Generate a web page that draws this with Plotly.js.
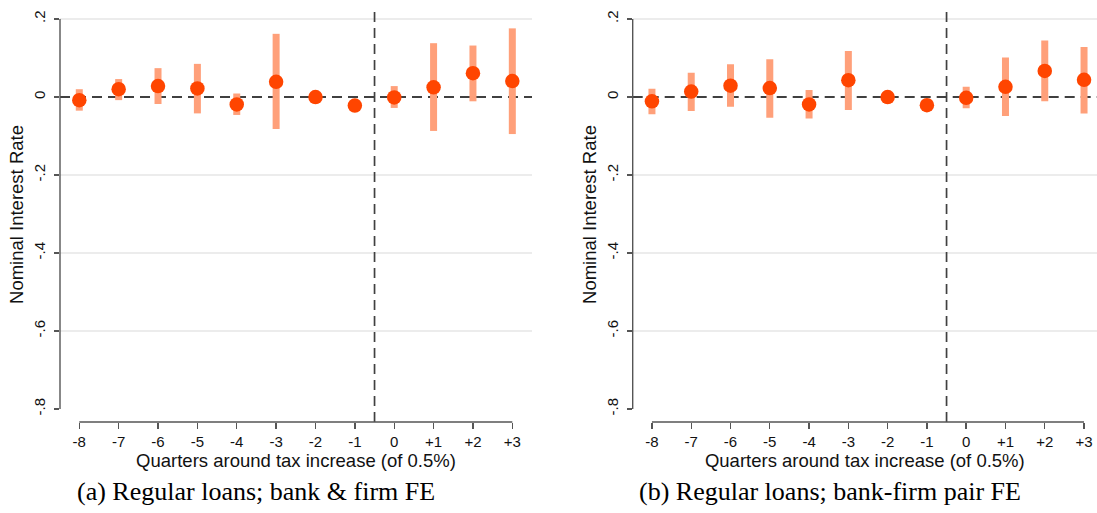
<!DOCTYPE html>
<html>
<head>
<meta charset="utf-8">
<script src="https://cdn.plot.ly/plotly-3.0.1.min.js"></script>
<style>
  html, body { margin: 0; padding: 0; background: #fff; }
  #chart { width: 1097px; height: 513px; }
</style>
</head>
<body>
<div id="chart"></div>
<script>
// ---- data ----
const quarters = [-8, -7, -6, -5, -4, -3, -2, -1, 0, 1, 2, 3];
const quarterLabels = ["-8", "-7", "-6", "-5", "-4", "-3", "-2", "-1", "0", "+1", "+2", "+3"];

// Panel (a): Regular loans; bank & firm FE
const estA = [-0.008, 0.020, 0.028, 0.022, -0.019, 0.039, 0.000, -0.022, -0.001, 0.025, 0.061, 0.041];
const hiA  = [0.020, 0.046, 0.074, 0.085, 0.009, 0.162, null, null, 0.028, 0.138, 0.132, 0.176];
const loA  = [-0.035, -0.008, -0.018, -0.042, -0.046, -0.082, null, null, -0.028, -0.087, -0.011, -0.095];

// Panel (b): Regular loans; bank-firm pair FE
const estB = [-0.011, 0.014, 0.029, 0.023, -0.019, 0.043, 0.000, -0.021, -0.002, 0.026, 0.067, 0.044];
const hiB  = [0.021, 0.062, 0.084, 0.097, 0.018, 0.118, null, null, 0.026, 0.101, 0.145, 0.128];
const loB  = [-0.044, -0.036, -0.025, -0.053, -0.055, -0.033, null, null, -0.029, -0.049, -0.011, -0.042];

const yTickVals = [0.2, 0, -0.2, -0.4, -0.6, -0.8];
const yTickText = [".2", "0", "-.2", "-.4", "-.6", "-.8"];
const gridVals = [0.2, -0.2, -0.4, -0.6];
const eventLine = -0.5;

const captions = ["(a) Regular loans; bank & firm FE", "(b) Regular loans; bank-firm pair FE"];
const xTitle = "Quarters around tax increase (of 0.5%)";
const yTitle = "Nominal Interest Rate";

// ---- styling ----
const W = 1097, H = 513;
const dotColor = "rgb(255,69,0)";
const ciColor = "rgb(255,160,122)";
const axisColor = "#555555";
const dashColor = "#404040";
const gridColor = "#e6e6e6";
const sans = "Liberation Sans, Arial, Helvetica, sans-serif";

function upper(est, hi) { return est.map((v, i) => hi[i] === null ? null : hi[i] - v); }
function lower(est, lo) { return est.map((v, i) => lo[i] === null ? null : v - lo[i]); }

function panelTrace(est, hi, lo, xa, ya) {
  return {
    type: "scatter", mode: "markers",
    x: quarters, y: est, xaxis: xa, yaxis: ya,
    marker: { color: dotColor, size: 14.5, line: { width: 0 } },
    error_y: {
      type: "data", symmetric: false,
      array: upper(est, hi), arrayminus: lower(est, lo),
      color: ciColor, thickness: 7, width: 0
    },
    hoverinfo: "x+y", showlegend: false
  };
}

const data = [
  panelTrace(estA, hiA, loA, "x", "y"),
  panelTrace(estB, hiB, loB, "x2", "y2")
];

const yDom = [1 - 422 / H, 1 - 7 / H];
const yRange = [-0.8333, 0.2308];

function xAxis(domain, range, anchor) {
  return {
    domain: domain, range: range, anchor: anchor,
    tickmode: "array", tickvals: quarters, ticktext: quarterLabels,
    ticks: "outside", ticklen: 6, tickwidth: 1.4, tickcolor: axisColor,
    showline: false, showgrid: false, zeroline: false,
    tickfont: { family: sans, size: 15, color: "#111" },
    title: { text: xTitle, font: { family: sans, size: 18.5, color: "#111" }, standoff: 1 },
    fixedrange: true
  };
}
function yAxis(anchor) {
  return {
    domain: yDom, range: yRange, anchor: anchor,
    tickmode: "array", tickvals: yTickVals, ticktext: yTickText,
    ticks: "outside", ticklen: 5, tickwidth: 1.4, tickcolor: axisColor,
    tickangle: -90, ticklabelstandoff: 3,
    showline: false, showgrid: false, zeroline: false,
    tickfont: { family: sans, size: 15, color: "#111" },
    title: { text: yTitle, font: { family: sans, size: 18.5, color: "#111" }, standoff: 2 },
    fixedrange: true
  };
}

const shapes = [];
function panelShapes(xr, yr) {
  gridVals.forEach(g => shapes.push({
    type: "line", xref: xr + " domain", yref: yr, x0: 0, x1: 1, y0: g, y1: g,
    line: { color: gridColor, width: 1.3 }, layer: "below"
  }));
  // horizontal zero reference
  shapes.push({ type: "line", xref: xr + " domain", yref: yr, x0: 0, x1: 1, y0: 0, y1: 0,
    line: { color: dashColor, width: 2, dash: "10px,6px" }, layer: "below" });
  // vertical event line
  shapes.push({ type: "line", xref: xr, yref: yr + " domain", x0: eventLine, x1: eventLine, y0: 0, y1: 1,
    line: { color: dashColor, width: 1.7, dash: "10px,6px" }, layer: "below" });
  // y axis line (spans tick range only)
  shapes.push({ type: "line", xref: xr + " domain", yref: yr, x0: 0, x1: 0,
    y0: yTickVals[yTickVals.length - 1], y1: yTickVals[0],
    line: { color: axisColor, width: 1.4 } });
  // x axis line (spans tick range only)
  shapes.push({ type: "line", xref: xr, yref: yr + " domain",
    x0: quarters[0], x1: quarters[quarters.length - 1], y0: 0, y1: 0,
    line: { color: axisColor, width: 1.4 } });
}
panelShapes("x", "y");
panelShapes("x2", "y2");

const serif = "Liberation Serif, Times New Roman, serif";
const annotations = [
  { text: captions[0], xref: "paper", yref: "paper", x: 256 / W, y: 1 - 491 / H,
    xanchor: "center", yanchor: "middle", showarrow: false, font: { family: serif, size: 26, color: "#000" } },
  { text: captions[1], xref: "paper", yref: "paper", x: 830 / W, y: 1 - 491 / H,
    xanchor: "center", yanchor: "middle", showarrow: false, font: { family: serif, size: 26, color: "#000" } }
];

const layout = {
  width: W, height: H,
  margin: { l: 0, r: 0, t: 0, b: 0 },
  paper_bgcolor: "#fff", plot_bgcolor: "#fff",
  showlegend: false,
  xaxis: xAxis([60 / W, 532 / W], [-8.49, 3.5], "y"),
  yaxis: yAxis("x"),
  xaxis2: xAxis([632.7 / W, 1], [-8.49, 3.33], "y2"),
  yaxis2: yAxis("x2"),
  shapes: shapes,
  annotations: annotations
};

Plotly.newPlot("chart", data, layout, { displayModeBar: false, staticPlot: true });
</script>
</body>
</html>
